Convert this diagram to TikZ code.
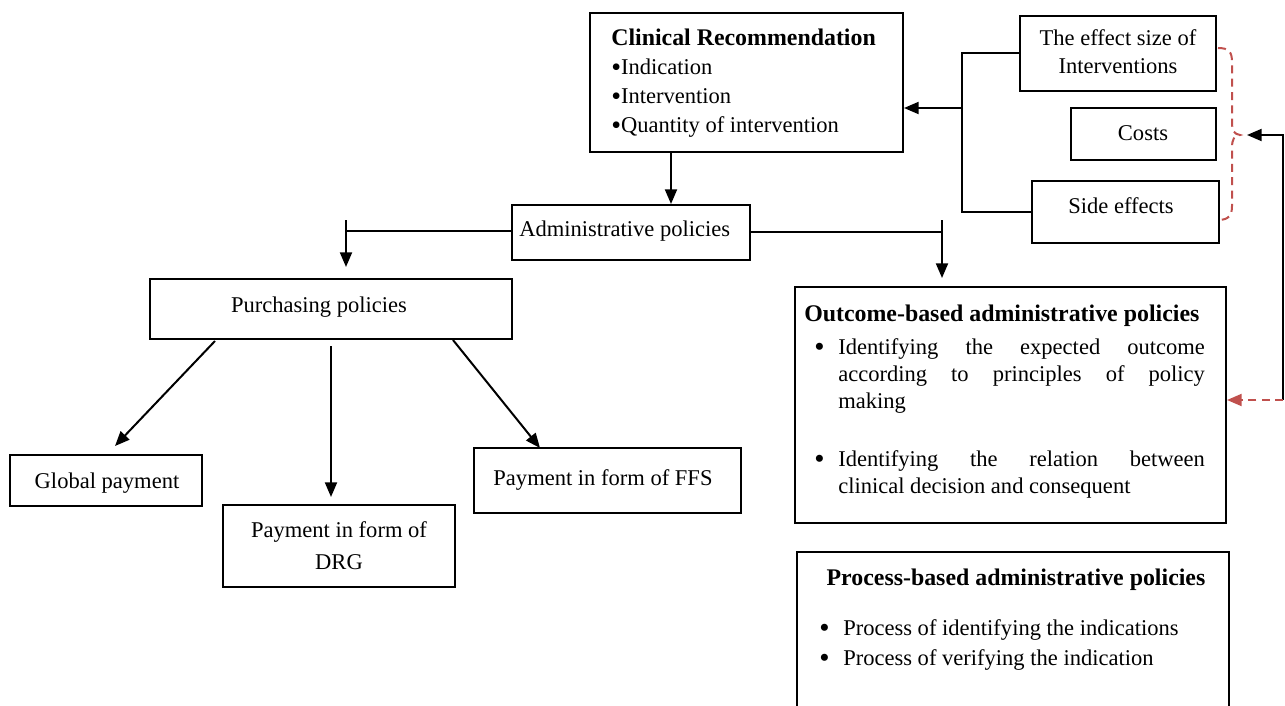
\documentclass[tikz,border=0pt]{standalone}
\usepackage{fontspec}
\setmainfont{Liberation Serif}
\usetikzlibrary{fit,arrows.meta}
\definecolor{bred}{RGB}{192,80,77}
\newcommand{\bigbul}{\raisebox{-1.6pt}{\fontsize{21}{21}\selectfont •}}
\tikzset{
  box/.style={draw, line width=1.5pt, inner sep=0pt},
  txt/.style={inner sep=0pt, font=\fontsize{16.9}{21.75}\selectfont},
  bld/.style={inner sep=0pt, font=\bfseries\fontsize{17.9}{21.75}\selectfont},
  bul/.style={inner sep=0pt, font=\fontsize{22}{22}\selectfont},
  ln/.style={line width=1.5pt},
  arr/.style={line width=1.5pt, -{Triangle[length=11pt,width=9pt]}},
  rarr/.style={line width=1.5pt, bred, dash pattern=on 6pt off 4pt, -{Triangle[length=11pt,width=9pt]}},
  rdash/.style={line width=1.5pt, bred, dash pattern=on 6pt off 4pt},
}
\begin{document}
\begin{tikzpicture}[x=0.75pt,y=-0.75pt]
\useasboundingbox (0,0) rectangle (1285,706);
\clip (0,0) rectangle (1285,706);
% boxes
\node[box, fit={(590,13) (903,152)}] (clin) {};
\node[box, fit={(1020,16) (1216,91)}] (effect) {};
\node[box, fit={(1071,108) (1216,160)}] (costs) {};
\node[box, fit={(1032,181) (1219,243)}] (side) {};
\node[box, fit={(512,205) (750,260)}] (admin) {};
\node[box, fit={(150,279) (512,339)}] (purch) {};
\node[box, fit={(10,455) (202,506)}] (glob) {};
\node[box, fit={(223,505) (455,587)}] (drg) {};
\node[box, fit={(474,448) (741,513)}] (ffs) {};
\node[box, fit={(795,287) (1226,523)}] (outc) {};
\node[box, fit={(797,552) (1229,720)}] (proc) {};
% texts
\node[txt, anchor=north west, align=left] (tclin) at (611,29) {{\bfseries\fontsize{17.9}{21.75}\selectfont Clinical Recommendation}\\\bigbul Indication\\\bigbul Intervention\\\bigbul Quantity of intervention};
\node[txt, anchor=north, align=center, font=\fontsize{16.9}{21}\selectfont] (teff) at (1118,29) {The effect size of\\Interventions};
\node[txt, anchor=base] (tcost) at (1143,141) {Costs};
\node[txt, anchor=base] (tside) at (1121,214) {Side effects};
\node[txt, anchor=base west] (tadmin) at (519,237) {Administrative policies};
\node[txt, anchor=base] (tpurch) at (319,312) {Purchasing policies};
\node[txt, anchor=base] (tglob) at (107,488) {Global payment};
\node[txt, anchor=north, align=center, font=\fontsize{16.9}{24}\selectfont] (tdrg) at (339,521) {Payment in form of\\DRG};
\node[txt, anchor=base] (tffs) at (603,485) {Payment in form of FFS};
\node[bld, anchor=base west] (touth) at (804,321) {Outcome-based administrative policies};
\node[bul, anchor=base west] (bo1) at (814,356) {•};
\node[txt, anchor=north west, text width=275pt, align=justify, font=\fontsize{16.9}{20.25}\selectfont] (to1) at (838,338) {Identifying the expected outcome\linebreak according to principles of policy\linebreak making};
\node[bul, anchor=base west] (bo2) at (814,468) {•};
\node[txt, anchor=north west, text width=275pt, align=justify, font=\fontsize{16.9}{20.25}\selectfont] (to2) at (838,450) {Identifying the relation between\linebreak clinical decision and consequent};
\node[bld, anchor=base] (tproch) at (1016,585) {Process-based administrative policies};
\node[bul, anchor=base west] (bp1) at (819,637) {•};
\node[txt, anchor=base west] (tp1) at (843,635) {Process of identifying the indications};
\node[bul, anchor=base west] (bp2) at (819,667) {•};
\node[txt, anchor=base west] (tp2) at (843,665) {Process of verifying the indication};
% connector coordinates
\coordinate (brk) at (963,108);
\coordinate (la) at (346,231);
\coordinate (latop) at (346,220);
\coordinate (laend) at (346,267);
\coordinate (ra) at (942,232);
\coordinate (ratop) at (942,220);
\coordinate (raend) at (942,278);
\coordinate (p1) at (215,341);
\coordinate (p1e) at (115,446);
\coordinate (p2) at (331,346);
\coordinate (p2e) at (331,497);
\coordinate (p3) at (453,340);
\coordinate (p3e) at (540,448);
\coordinate (cr) at (1283,400);
\coordinate (crt) at (1283,135);
\coordinate (bt) at (1247,135);
% connectors
\draw[arr] (clin.south -| 671,0) -- (admin.north -| 671,0);
\draw[ln] (effect.west) -- ++(-57,0) |- (side.west);
\draw[arr] (brk) -- (clin.east |- brk);
\draw[ln] (admin.west |- la) -- (la);
\draw[arr] (latop) -- (laend);
\draw[ln] (admin.east |- ra) -- (ra);
\draw[arr] (ratop) -- (raend);
\draw[arr] (p1) -- (p1e);
\draw[arr] (p2) -- (p2e);
\draw[arr] (p3) -- (p3e);
\draw[rdash] (1218,48) .. controls (1229,48) and (1232,52) .. (1232,62) -- (1232,122) .. controls (1232,131) and (1234,134) .. (1240,135) .. controls (1234,136) and (1232,139) .. (1232,148) -- (1232,206) .. controls (1232,215) and (1229,220) .. (1218,220);
\draw[arr] (cr) -- (crt) -- (bt);
\draw[rarr] (cr) -- (outc.east |- cr);
\end{tikzpicture}
\end{document}
